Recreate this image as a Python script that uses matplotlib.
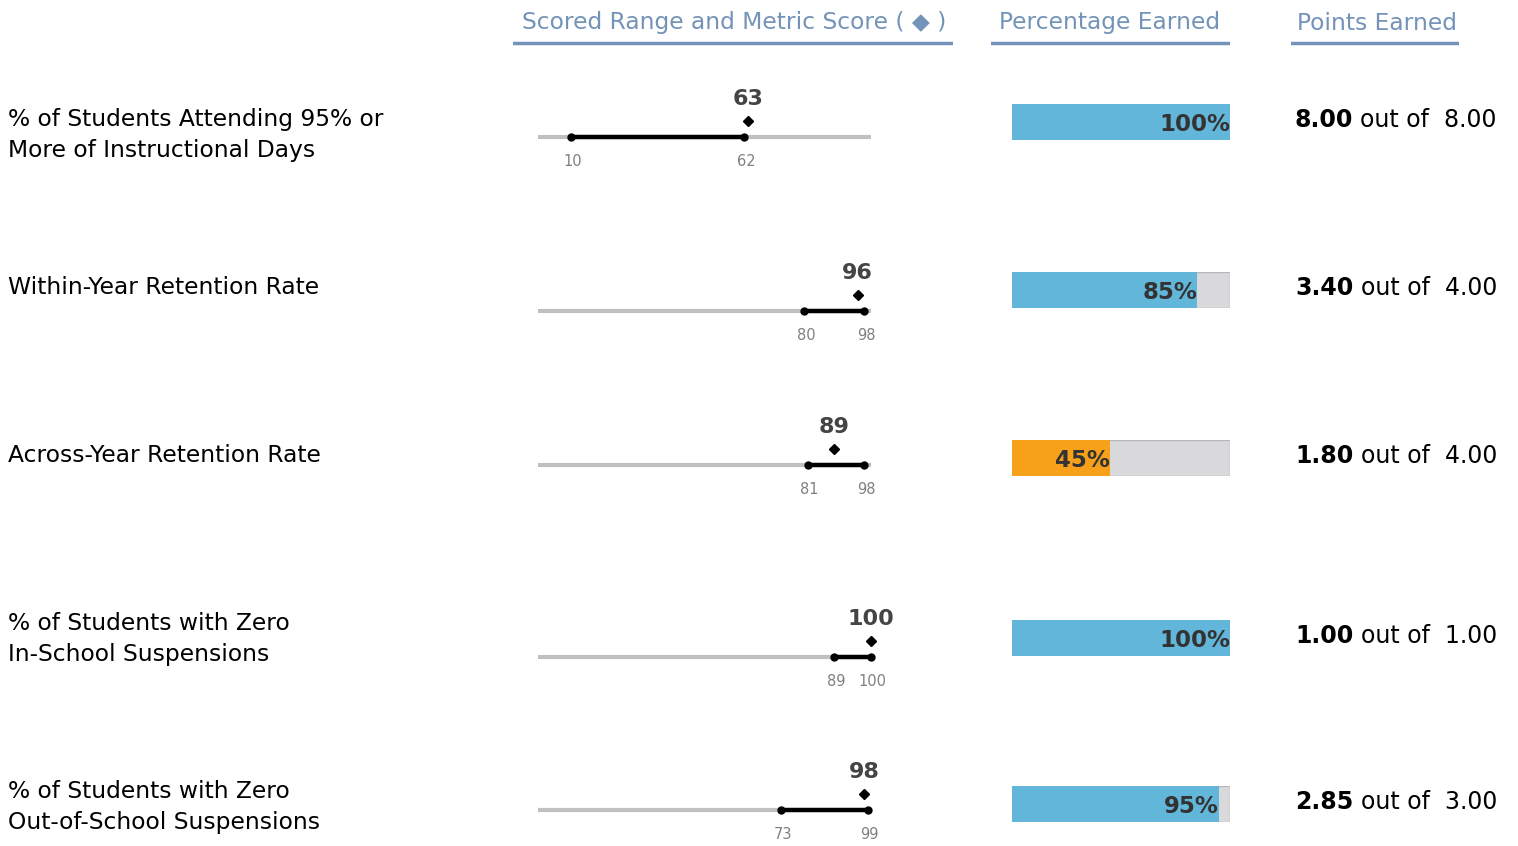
import matplotlib
matplotlib.use("Agg")
import matplotlib.pyplot as plt

############################## DATA ##############################
metric_labels = ["% of Students Attending 95% or\nMore of Instructional Days",
                 "Within-Year Retention Rate",
                 "Across-Year Retention Rate",
                 "% of Students with Zero\nIn-School Suspensions",
                 "% of Students with Zero\nOut-of-School Suspensions"]
range_low = [10, 80, 81, 89, 73]
range_high = [62, 98, 98, 100, 99]
metric_score = [63, 96, 89, 100, 98]
pct_earned = [1.00, 0.85, 0.45, 1.00, 0.95]
points_earned = [8.00, 3.40, 1.80, 1.00, 2.85]
points_possible = [8.00, 4.00, 4.00, 1.00, 3.00]
bar_colors = ["#62b6d9", "#62b6d9", "#f7a11a", "#62b6d9", "#62b6d9"]
headers = ["Scored Range and Metric Score ( \u25c6 )", "Percentage Earned", "Points Earned"]
################################ FIN ##############################

W, H = 1518, 846
fig = plt.figure(figsize=(W / 100, H / 100), dpi=100)

def box(x, y, w, h):
    # pixel box (top-left origin) -> figure fraction
    return [x / W, 1 - (y + h) / H, w / W, h / H]

header_col = "#7393b8"
# header text + underline
hdr_pos = [(734, 513, 953), (1110, 991, 1230), (1377, 1291, 1459)]
for txt, (xc, x0, x1) in zip(headers, hdr_pos):
    fig.text(xc / W, 1 - 23 / H, txt, ha="center", va="center",
             fontsize=16.8, color=header_col)
    ax_line = fig.add_axes(box(x0, 40, x1 - x0, 6))
    ax_line.axhline(0, color=header_col, lw=2.5)
    ax_line.set_xlim(0, 1)
    ax_line.set_ylim(-1, 1)
    ax_line.axis("off")

line_y = [137, 311, 465, 657, 810]
label_y = [135, 287, 455, 639, 807]
bar_y = [122, 290, 458, 638, 804]

for i in range(len(metric_labels)):
    # row label
    fig.text(8 / W, 1 - label_y[i] / H, metric_labels[i], ha="left", va="center",
             fontsize=16.8, color="black", linespacing=1.45)

    # range line, 0..100 across 538..870 px
    ax = fig.add_axes(box(538, line_y[i] - 48, 333, 80))
    ax.set_xlim(0, 100)
    ax.set_ylim(-32, 48)
    ax.axis("off")
    ax.plot([0, 100], [0, 0], color="#c0c0c0", lw=3, solid_capstyle="butt",
            clip_on=False)
    ax.plot([range_low[i], range_high[i]], [0, 0], color="black", lw=3.2,
            solid_capstyle="butt", clip_on=False)
    ax.plot([range_low[i], range_high[i]], [0, 0], "o", color="black", ms=5,
            clip_on=False)
    ax.plot(metric_score[i], 16, "D", color="black", ms=5, clip_on=False)
    ax.text(metric_score[i], 38, str(metric_score[i]), ha="center", va="center",
            fontsize=16, fontweight="bold", color="#444444")
    for v in (range_low[i], range_high[i]):
        ax.text(v + 0.5, -24, str(v), ha="center", va="center", fontsize=10.5,
                color="#808080")

    # percentage bar
    axb = fig.add_axes(box(1012, bar_y[i] - 18, 218, 36))
    axb.set_xlim(0, 1)
    axb.set_ylim(-0.5, 0.5)
    axb.axis("off")
    axb.barh(0, 1, height=1, color="#d9d9db", edgecolor="#b8b8b8", lw=1)
    axb.barh(0, pct_earned[i], height=1, color=bar_colors[i], lw=0)
    axb.text(pct_earned[i], -0.06, "%d%%" % round(pct_earned[i] * 100), ha="right",
             va="center", fontsize=16.5, fontweight="bold", color="#333333")

    # points earned
    yy = 1 - (bar_y[i] - 2) / H
    fig.text(1295 / W, yy, "%.2f" % points_earned[i], ha="left", va="center",
             fontsize=17, fontweight="bold", color="black")
    fig.text(1497 / W, yy, "out of  %.2f" % points_possible[i], ha="right",
             va="center", fontsize=17, color="black")

fig.savefig("out.png", dpi=100)
